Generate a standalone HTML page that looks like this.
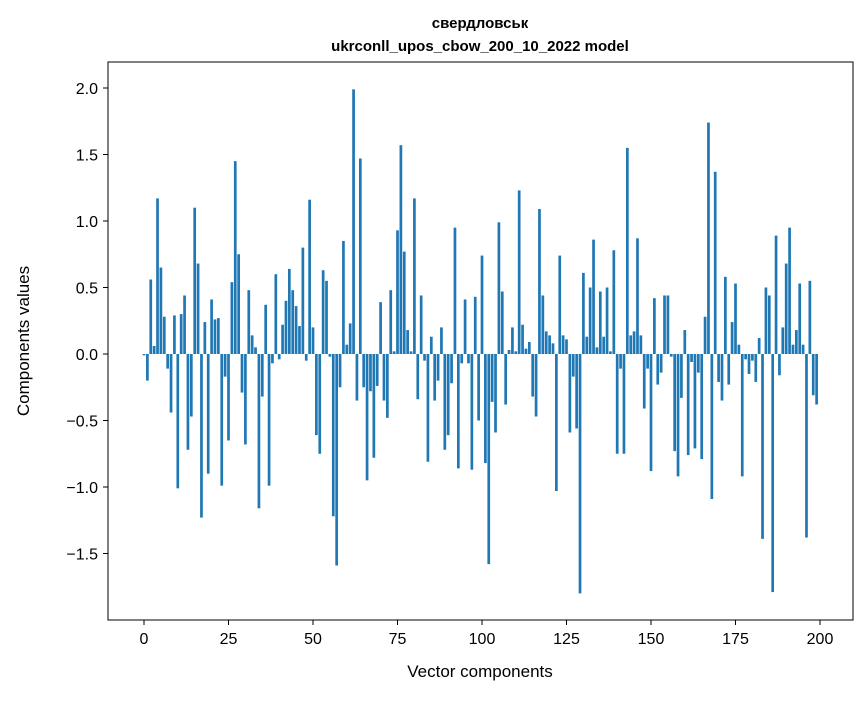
<!DOCTYPE html>
<html><head><meta charset="utf-8"><style>
body{margin:0;background:#fff;font-family:"Liberation Sans","DejaVu Sans",sans-serif;}
svg text{font-family:"Liberation Sans","DejaVu Sans",sans-serif;}
</style></head><body>
<svg id="chart" width="867" height="696" xmlns="http://www.w3.org/2000/svg">
<text x="480" y="28" text-anchor="middle" font-size="15" font-weight="bold">свердловськ</text>
<text x="480" y="51" text-anchor="middle" font-size="15" font-weight="bold">ukrconll_upos_cbow_200_10_2022 model</text>
<g id="bars"></g>
<g id="xticks"></g>
<g id="yticks"></g>
<rect x="108" y="62" width="745" height="558" fill="none" stroke="#000" stroke-width="1"/>
<text x="480" y="677" text-anchor="middle" font-size="17">Vector components</text>
<text transform="translate(29,341) rotate(-90)" text-anchor="middle" font-size="17">Components values</text>
</svg>
<script>
const values = [-0.01,-0.2,0.56,0.06,1.17,0.65,0.28,-0.11,-0.44,0.29,
-1.01,0.30,0.44,-0.72,-0.47,1.10,0.68,-1.23,0.24,-0.90,
0.41,0.26,0.27,-0.99,-0.17,-0.65,0.54,1.45,0.75,-0.29,
-0.68,0.48,0.14,0.05,-1.16,-0.32,0.37,-0.99,-0.07,0.60,
-0.04,0.22,0.40,0.64,0.48,0.36,0.21,0.80,-0.05,1.16,
0.20,-0.61,-0.75,0.63,0.55,-0.02,-1.22,-1.59,-0.25,0.85,
0.07,0.23,1.99,-0.35,1.47,-0.25,-0.95,-0.28,-0.78,-0.24,
0.39,-0.35,-0.48,0.48,0.02,0.93,1.57,0.77,0.18,0.02,
1.17,-0.34,0.44,-0.05,-0.81,0.13,-0.35,-0.20,0.20,-0.72,
-0.61,-0.22,0.95,-0.86,-0.07,0.41,-0.07,-0.87,0.43,-0.50,
0.74,-0.82,-1.58,-0.36,-0.59,0.99,0.47,-0.38,0.03,0.20,
0.02,1.23,0.22,0.04,0.09,-0.32,-0.47,1.09,0.44,0.17,
0.14,0.08,-1.03,0.74,0.14,0.11,-0.59,-0.17,-0.56,-1.80,
0.61,0.13,0.50,0.86,0.05,0.47,0.13,0.50,0.02,0.78,
-0.75,-0.11,-0.75,1.55,0.14,0.17,0.87,0.14,-0.41,-0.11,
-0.88,0.42,-0.23,-0.14,0.44,0.44,-0.02,-0.73,-0.92,-0.33,
0.18,-0.76,-0.06,-0.71,-0.14,-0.79,0.28,1.74,-1.09,1.37,
-0.21,-0.35,0.58,-0.23,0.24,0.53,0.07,-0.92,-0.04,-0.15,
-0.05,-0.21,0.12,-1.39,0.50,0.44,-1.79,0.89,-0.16,0.20,
0.68,0.95,0.07,0.18,0.53,0.07,-1.38,0.55,-0.31,-0.38];
const xTicks = [0,25,50,75,100,125,150,175,200];
const yTicks = [-1.5,-1.0,-0.5,0.0,0.5,1.0,1.5,2.0];
const yTickLabels = ["−1.5","−1.0","−0.5","0.0","0.5","1.0","1.5","2.0"];

const NS="http://www.w3.org/2000/svg";
const xs = v => 144 + v*3.38;
const ys = v => 354 - v*133;
const bw = 0.8*3.38;
const bars=document.getElementById('bars');
values.forEach((v,i)=>{
  const r=document.createElementNS(NS,'rect');
  const y0=ys(Math.max(v,0)), y1=ys(Math.min(v,0));
  r.setAttribute('x',xs(i)-bw/2);
  r.setAttribute('y',y0);
  r.setAttribute('width',bw);
  r.setAttribute('height',Math.max(y1-y0,0.5));
  r.setAttribute('fill','#1f77b4');
  
  
  bars.appendChild(r);
});
const xg=document.getElementById('xticks');
xTicks.forEach(t=>{
  const l=document.createElementNS(NS,'line');
  l.setAttribute('x1',xs(t));l.setAttribute('x2',xs(t));
  l.setAttribute('y1',620);l.setAttribute('y2',625);
  l.setAttribute('stroke','#000');
  
  
  xg.appendChild(l);
  const tx=document.createElementNS(NS,'text');
  tx.setAttribute('x',xs(t));tx.setAttribute('y',644);
  tx.setAttribute('text-anchor','middle');tx.setAttribute('font-size','16');
  tx.textContent=t;
  
  
  xg.appendChild(tx);
});
const yg=document.getElementById('yticks');
yTicks.forEach((t,i)=>{
  const l=document.createElementNS(NS,'line');
  l.setAttribute('x1',103);l.setAttribute('x2',108);
  l.setAttribute('y1',ys(t));l.setAttribute('y2',ys(t));
  l.setAttribute('stroke','#000');
  
  
  yg.appendChild(l);
  const tx=document.createElementNS(NS,'text');
  tx.setAttribute('x',98);tx.setAttribute('y',ys(t)+6);
  tx.setAttribute('text-anchor','end');tx.setAttribute('font-size','16');
  tx.textContent=yTickLabels[i];
  
  
  yg.appendChild(tx);
});
</script>
</body></html>
